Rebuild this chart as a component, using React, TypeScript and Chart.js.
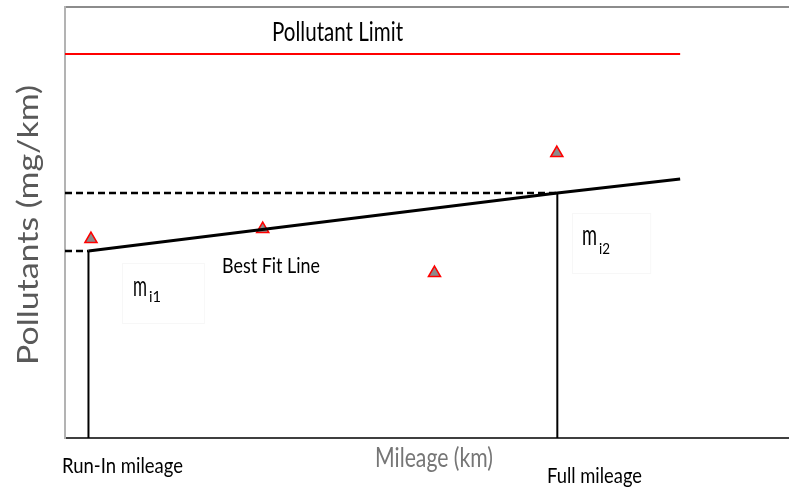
import React, { useEffect, useRef } from "react";
import { Chart, registerables } from "chart.js";

Chart.register(...registerables);

// ---- Data ----
const X_MAX = 145; // mileage axis span (arbitrary units)
const Y_MAX = 86.2; // pollutant axis span (arbitrary units)
const runInMileage = 4.7;
const fullMileage = 98.6;
const limitEndMileage = 123.2;
const pollutantLimit = 76.8;
const measuredMileage = [5.2, 39.6, 74.0, 98.5];
const measuredPollutants = [39.8, 41.8, 33.0, 57.0];
const fitMileage = [4.7, 98.6, 123.2];
const fitPollutants = [37.4, 49.0, 51.8];

const FONT = "Lato, 'Open Sans', sans-serif";

type Ann = {
  text: string;
  x: number;
  y: number;
  size: number;
  width: number;
  color: string;
  rotate?: boolean;
};

const annotations: Ann[] = [
  { text: "Pollutant Limit", x: 41.46, y: 79.4, size: 26.5, width: 131, color: "#000000" },
  { text: "Best Fit Line", x: 31.44, y: 33.0, size: 22, width: 98, color: "#000000" },
  { text: "Run-In mileage", x: -0.6, y: -7.0, size: 22, width: 121, color: "#000000" },
  { text: "Full mileage", x: 96.53, y: -9.0, size: 22, width: 95, color: "#000000" },
  { text: "Mileage (km)", x: 62.09, y: -5.8, size: 26, width: 118, color: "#767676" },
  { text: "Pollutants (mg/km)", x: -5.4, y: 14.6, size: 29.5, width: 280, color: "#595959", rotate: true },
  { text: "m", x: 13.62, y: 28.4, size: 28, width: 14, color: "#000000" },
  { text: "i1", x: 16.82, y: 27.2, size: 15.5, width: 12, color: "#000000" },
  { text: "m", x: 103.54, y: 38.6, size: 28, width: 15, color: "#000000" },
  { text: "i2", x: 106.95, y: 36.8, size: 15.5, width: 11, color: "#000000" },
];

const faintBoxes = [
  { x0: 11.42, x1: 27.84, y0: 35.0, y1: 23.0 },
  { x0: 101.54, x1: 117.2, y0: 45.0, y1: 33.0 },
];

const textPlugin = {
  id: "textPlugin",
  afterDatasetsDraw(chart: any) {
    const { ctx } = chart;
    const xs = chart.scales.x;
    const ys = chart.scales.y;
    ctx.save();
    ctx.strokeStyle = "rgba(0,0,0,0.03)";
    ctx.lineWidth = 1;
    for (const b of faintBoxes) {
      const l = xs.getPixelForValue(b.x0);
      const r = xs.getPixelForValue(b.x1);
      const t = ys.getPixelForValue(b.y0);
      const bt = ys.getPixelForValue(b.y1);
      ctx.strokeRect(Math.round(l) + 0.5, Math.round(t) + 0.5, r - l, bt - t);
    }
    ctx.restore();
    for (const a of annotations) {
      const px = xs.getPixelForValue(a.x);
      const py = ys.getPixelForValue(a.y);
      ctx.save();
      ctx.font = `${a.size}px ${FONT}`;
      ctx.fillStyle = a.color;
      ctx.textAlign = "left";
      ctx.textBaseline = "alphabetic";
      const w = ctx.measureText(a.text).width || 1;
      ctx.translate(px, py);
      if (a.rotate) ctx.rotate(-Math.PI / 2);
      ctx.scale(a.width / w, 1);
      ctx.fillText(a.text, 0, 0);
      ctx.restore();
    }
  },
};

export default function App() {
  const ref = useRef<HTMLCanvasElement | null>(null);

  useEffect(() => {
    if (!ref.current) return;
    const line = (pts: { x: number; y: number }[], color: string, width: number, dash: number[] = []) => ({
      type: "line" as const,
      data: pts,
      borderColor: color,
      borderWidth: width,
      borderDash: dash,
      pointRadius: 0,
      showLine: true,
      fill: false,
      tension: 0,
    });

    const chart = new Chart(ref.current, {
      type: "scatter",
      data: {
        datasets: [
          line(
            [
              { x: 0, y: pollutantLimit },
              { x: limitEndMileage, y: pollutantLimit },
            ],
            "#ff0000",
            2
          ),
          line(
            [
              { x: 0, y: fitPollutants[0] },
              { x: runInMileage, y: fitPollutants[0] },
            ],
            "#000000",
            2.5,
            [7, 4]
          ),
          line(
            [
              { x: 0, y: fitPollutants[1] },
              { x: fullMileage, y: fitPollutants[1] },
            ],
            "#000000",
            2.5,
            [7, 4]
          ),
          line(
            [
              { x: runInMileage, y: 0 },
              { x: runInMileage, y: fitPollutants[0] },
            ],
            "#000000",
            2
          ),
          line(
            [
              { x: fullMileage, y: 0 },
              { x: fullMileage, y: fitPollutants[1] },
            ],
            "#000000",
            2
          ),
          line(
            fitMileage.map((x, i) => ({ x, y: fitPollutants[i] })),
            "#000000",
            3
          ),
          {
            type: "scatter" as const,
            data: measuredMileage.map((x, i) => ({ x, y: measuredPollutants[i] })),
            pointStyle: "triangle",
            pointRadius: 7,
            pointBackgroundColor: "#8c8c8c",
            pointBorderColor: "#ff0000",
            pointBorderWidth: 1.5,
            showLine: false,
          } as any,
        ],
      },
      options: {
        responsive: false,
        animation: false,
        layout: { padding: 0, autoPadding: false } as any,
        plugins: {
          legend: { display: false },
          tooltip: { enabled: false },
          title: { display: false },
        },
        scales: {
          x: {
            type: "linear",
            position: "bottom",
            min: 0,
            max: X_MAX,
            grid: { display: false },
            ticks: { display: false },
            border: { display: true, color: "#3f3f3f", width: 2 },
            afterFit: (s: any) => {
              s.height = 50;
            },
          },
          xTop: {
            type: "linear",
            position: "top",
            display: true,
            min: 0,
            max: X_MAX,
            grid: { display: false },
            ticks: { display: false },
            border: { display: true, color: "#8c8c8c", width: 2 },
            afterFit: (s: any) => {
              s.height = 7;
            },
          },
          y: {
            type: "linear",
            position: "left",
            min: 0,
            max: Y_MAX,
            grid: { display: false },
            ticks: { display: false },
            border: { display: true, color: "#b3b3b3", width: 2 },
            afterFit: (s: any) => {
              s.width = 65;
            },
          },
        } as any,
      },
      plugins: [textPlugin],
    });
    return () => chart.destroy();
  }, []);

  return (
    <div style={{ position: "fixed", left: 0, top: 0, width: 789, height: 488, background: "#ffffff" }}>
      <canvas ref={ref} width={789} height={488} style={{ width: 789, height: 488, display: "block" }} />
    </div>
  );
}
